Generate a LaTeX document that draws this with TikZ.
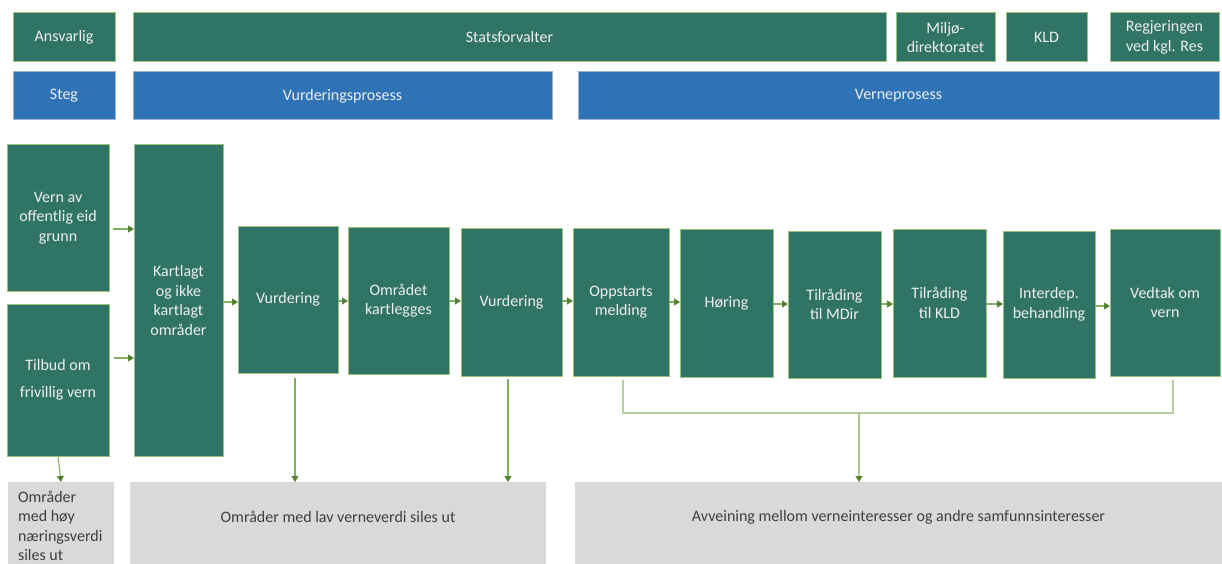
\documentclass[tikz,border=0pt]{standalone}
\usepackage{fontspec}
\setmainfont{Carlito}
\usetikzlibrary{arrows.meta}
\definecolor{gfill}{HTML}{307465}
\definecolor{gedge}{HTML}{9CC27A}
\definecolor{bfill}{HTML}{2E73B5}
\definecolor{bedge}{HTML}{9DB3D6}
\definecolor{grfill}{HTML}{D9D9D9}
\definecolor{gtext}{HTML}{EEEEEE}
\definecolor{dtext}{HTML}{3F3F3F}
\definecolor{arrline}{HTML}{82AE62}
\definecolor{tipcol}{HTML}{548235}
\definecolor{brline}{HTML}{B6D0A2}
\tikzset{
  base/.style={rectangle, inner sep=0pt, outer sep=0pt, align=center,
    font=\fontsize{16}{19.5}\selectfont},
  gbox/.style={base, fill=gfill, draw=gedge, line width=1pt, text=gtext},
  bbox/.style={base, fill=bfill, draw=bedge, line width=1pt, text=gtext},
  greybox/.style={base, fill=grfill, draw=none},
  gtxt/.style={base, text=dtext},
  arr/.style={draw=arrline, line width=1.1pt, -{Triangle[width=7pt,length=6pt,color=tipcol]}},
  bline/.style={draw=brline, line width=1.6pt},
}
\begin{document}
\begin{tikzpicture}[x=1pt,y=-1pt]
\useasboundingbox (0,0) rectangle (1222,564);
% row 1
\node[gbox, minimum width=102, minimum height=49] (ansv) at (64,37.5) {Ansvarlig};
\node[gbox, minimum width=753, minimum height=49] (stat) at (509.5,37.5) {Statsforvalter};
\node[gbox, minimum width=99, minimum height=49] (mdir) at (945.5,37.5) {Miljø-\\direktoratet};
\node[gbox, minimum width=81, minimum height=49] (kld) at (1046.5,37.5) {KLD};
\node[gbox, minimum width=109, minimum height=49] (regj) at (1164.5,37.5) {Regjeringen\\ved kgl. Res};
% row 2
\node[bbox, minimum width=102, minimum height=48] (steg) at (64,96) {Steg};
\node[bbox, minimum width=419, minimum height=48] (vurdp) at (342.5,96) {Vurderingsprosess};
\node[bbox, minimum width=641, minimum height=48] (vernp) at (898.5,96) {Verneprosess};
% main boxes
\node[gbox, minimum width=102, minimum height=146] (vern) at (58,218) {Vern av\\offentlig eid\\grunn};
\node[gbox, minimum width=102, minimum height=152] (tilbud) at (58,380) {Tilbud om\\[7pt]frivillig vern};
\node[gbox, minimum width=89, minimum height=311] (kart) at (178.5,300.5) {Kartlagt\\og ikke\\kartlagt\\områder};
\node[gbox, minimum width=100, minimum height=147] (vur1) at (288,299.5) {Vurdering};
\node[gbox, minimum width=101, minimum height=147] (omr) at (398.5,300.5) {Området\\kartlegges};
\node[gbox, minimum width=101, minimum height=148] (vur2) at (511.5,302) {Vurdering};
\node[gbox, minimum width=96, minimum height=148] (opp) at (621,302) {Oppstarts\\melding};
\node[gbox, minimum width=93, minimum height=148] (hor) at (726.5,303) {Høring};
\node[gbox, minimum width=93, minimum height=147] (tmdir) at (834.5,304.5) {Tilråding\\til MDir};
\node[gbox, minimum width=93, minimum height=148] (tkld) at (939.5,303) {Tilråding\\til KLD};
\node[gbox, minimum width=92, minimum height=147] (inter) at (1049,304.5) {Interdep.\\behandling};
\node[gbox, minimum width=110, minimum height=147] (vedtak) at (1165,302.5) {Vedtak om\\vern};
% grey boxes
\node[greybox, minimum width=106, minimum height=82] (g1) at (61,523) {};
\node[greybox, minimum width=416, minimum height=82] (g2) at (338,523) {};
\node[greybox, minimum width=647, minimum height=82] (g3) at (898.5,523) {};
\node[gtxt, anchor=north west, align=left] (g1t) at (18,491) {Områder\\med høy\\næringsverdi\\siles ut};
\node[gtxt] (g2t) at (338,517) {Områder med lav verneverdi siles ut};
\node[gtxt] (g3t) at (898.5,517) {Avveining mellom verneinteresser og andre samfunnsinteresser};
% horizontal arrows
\draw[arr, shorten <=4pt] (vern.east |- 0,229) -- (kart.west |- 0,229);
\draw[arr, shorten <=5pt] (tilbud.east |- 0,358) -- (kart.west |- 0,358);
\draw[arr] (kart.east |- 0,302) -- (vur1.west |- 0,302);
\draw[arr] (vur1.east |- 0,301) -- (omr.west |- 0,301);
\draw[arr] (omr.east |- 0,301) -- (vur2.west |- 0,301);
\draw[arr] (vur2.east |- 0,301) -- (opp.west |- 0,301);
\draw[arr] (opp.east |- 0,302) -- (hor.west |- 0,302);
\draw[arr] (hor.east |- 0,304) -- (tmdir.west |- 0,304);
\draw[arr] (tmdir.east |- 0,304) -- (tkld.west |- 0,304);
\draw[arr] (tkld.east |- 0,304) -- (inter.west |- 0,304);
\draw[arr] (inter.east |- 0,306) -- (vedtak.west |- 0,306);
% downward arrows
\draw[arr, shorten <=1pt] (tilbud.south) -- (g1.north);
\draw[arr, shorten <=5pt] (vur1.south -| 295,0) -- (g2.north -| 295,0);
\draw[arr, shorten <=3pt] (vur2.south -| 508,0) -- (g2.north -| 508,0);
% bracket
\coordinate (brL) at (623,413);
\coordinate (brR) at (1173,413);
\coordinate (brM) at (859,413);
\draw[bline, shorten <=4pt, shorten >=4pt] (opp.south -| brL) -- (brL) -- (brR) -- (vedtak.south -| brR);
\draw[arr, draw=brline!80!arrline] (brM) -- (g3.north -| brM);
\end{tikzpicture}
\end{document}
